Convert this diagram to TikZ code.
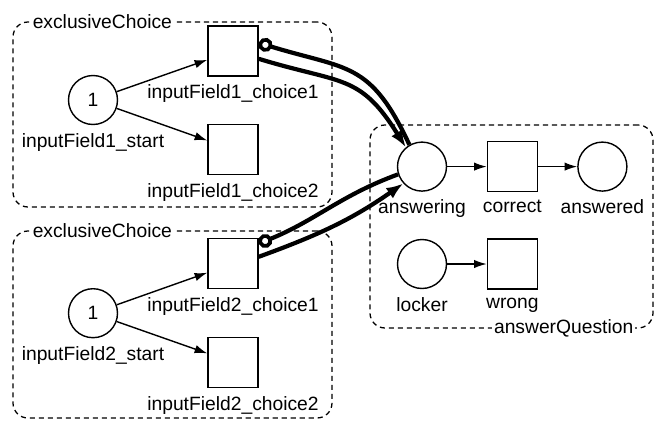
\documentclass[tikz,border=0pt]{standalone}
\usepackage{fontspec}
\setmainfont{Liberation Sans}
\usetikzlibrary{arrows.meta}

\begin{document}
\begin{tikzpicture}[
font=\fontsize{13.7}{16}\selectfont,
label distance=0.08cm,
place/.style={circle, draw, line width=1pt, minimum size=1.225cm, inner sep=0pt},
transition/.style={rectangle, draw, line width=1pt, minimum size=1.25cm, inner sep=0pt},
groupbox/.style={rounded corners=0.375cm, draw, dash pattern=on 3.6pt off 2.8pt, line width=0.9pt, inner sep=0pt},
grouplabel/.style={fill=white, inner sep=1.5pt},
arc/.style={-{Latex[length=9pt, width=6pt]}, line width=1pt},
bigarc/.style={-{Latex[length=12pt, width=9pt]}, line width=3pt},
inhibarc/.style={-{Circle[open, length=10pt, line width=2.6pt]}, line width=3pt},
]
\useasboundingbox (0,0) rectangle (16.425,-10.5);

%Groups
\node[groupbox, minimum width=7.975cm, minimum height=4.625cm] (choicebox1) at (4.3125,-2.8625) {};
\node[groupbox, minimum width=7.975cm, minimum height=4.675cm] (choicebox2) at (4.3125,-8.1125) {};
\node[groupbox, minimum width=7.075cm, minimum height=5.075cm] (questionbox) at (12.7875,-5.6625) {};
\node[grouplabel, anchor=west] (choicelabel1) at ([xshift=0.45cm]choicebox1.north west) {exclusiveChoice};
\node[grouplabel, anchor=west] (choicelabel2) at ([xshift=0.45cm]choicebox2.north west) {exclusiveChoice};
\node[grouplabel, anchor=east] (questionlabel) at ([xshift=-0.45cm]questionbox.south east) {answerQuestion};

%Nodes
\node[place, label={below:inputField1\_start}] (start1) at (2.325,-2.5) {1};
\node[transition, label={below:inputField1\_choice1}] (choice11) at (5.825,-1.27) {};
\node[transition, label={below:inputField1\_choice2}] (choice12) at (5.825,-3.74) {};
\node[place, label={below:inputField2\_start}] (start2) at (2.325,-7.83) {1};
\node[transition, label={below:inputField2\_choice1}] (choice21) at (5.825,-6.59) {};
\node[transition, label={below:inputField2\_choice2}] (choice22) at (5.825,-9.06) {};
\node[place, label={below:answering}] (answering) at (10.55,-4.165) {};
\node[transition, label={below:correct}] (correct) at (12.81,-4.165) {};
\node[place, label={below:answered}] (answered) at (15.06,-4.165) {};
\node[place, label={below:locker}] (locker) at (10.55,-6.6) {};
\node[transition, label={below:wrong}] (wrong) at (12.81,-6.6) {};

%Lines
\draw[arc] (start1) -- (choice11);
\draw[arc] (start1) -- (choice12);
\draw[arc] (start2) -- (choice21);
\draw[arc] (start2) -- (choice22);
\draw[arc] (answering) -- (correct);
\draw[arc] (correct) -- (answered);
\draw[arc] (locker) -- (wrong);
\draw[bigarc] ([yshift=-0.2cm]choice11.east) to [out=-17,in=122,looseness=1.3] (answering.130);
\draw[inhibarc] (answering.120) to [out=115,in=-17,looseness=1.3] ([yshift=0.2cm]choice11.east);
\draw[bigarc] ([yshift=0.17cm]choice21.east) to [out=20,in=215] (answering.222);
\draw[inhibarc] (answering.198) to [out=200,in=22] ([yshift=0.5cm]choice21.east);

\end{tikzpicture}
\end{document}
